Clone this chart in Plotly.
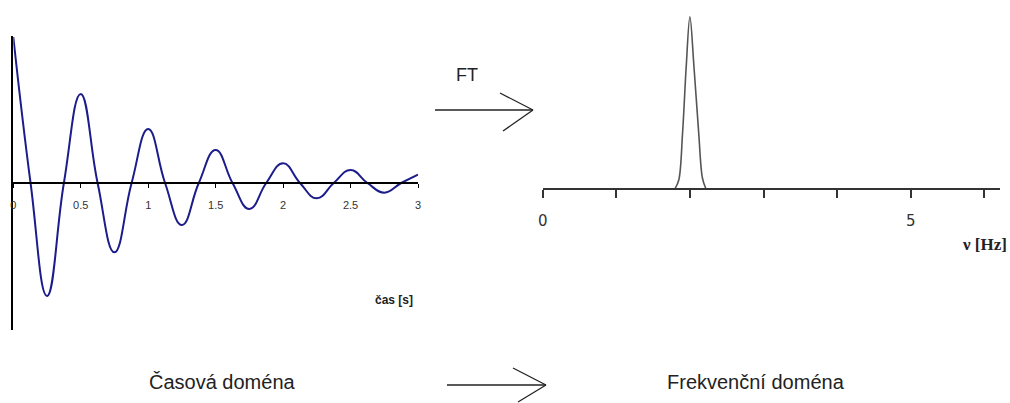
import plotly.graph_objects as go

W, H = 1010, 403

# ---- data: time domain (damped oscillation) ----
time_s = [0.0, 0.128, 0.25, 0.375, 0.5, 0.625, 0.75, 0.877, 1.0, 1.125, 1.25, 1.375,
          1.5, 1.625, 1.75, 1.875, 2.0, 2.125, 2.25, 2.375, 2.5, 2.625, 2.75, 2.875, 3.0]
signal = [1.0, 0.0, -0.774, 0.0, 0.61, 0.0, -0.475, 0.0, 0.37, 0.0, -0.288, 0.0,
          0.226, 0.0, -0.178, 0.0, 0.135, 0.0, -0.105, 0.0, 0.089, 0.0, -0.066, 0.0, 0.058]
time_ticks = [0, 0.5, 1, 1.5, 2, 2.5, 3]
time_tick_text = ["0", "0.5", "1", "1.5", "2", "2.5", "3"]

# ---- data: frequency domain (single peak at 2 Hz) ----
freq_hz = [1.80, 1.85, 1.90, 1.95, 2.00, 2.055, 2.12, 2.17, 2.215]
spectrum = [0.0, 0.05, 0.32, 0.71, 1.0, 0.71, 0.32, 0.06, 0.0]
freq_ticks = [0, 1, 2, 3, 4, 5, 6]
freq_tick_text = ["0", "", "", "", "", "5", ""]


def px(x):
    return x / W


def py(y):
    return 1 - y / H


fig = go.Figure()
fig.add_trace(go.Scatter(x=time_s, y=signal, mode="lines",
                         line=dict(color="#1c1c8a", width=2, shape="spline", smoothing=1.3),
                         xaxis="x", yaxis="y", hoverinfo="skip"))
fig.add_trace(go.Scatter(x=freq_hz, y=spectrum, mode="lines",
                         line=dict(color="#555555", width=1.6, shape="spline", smoothing=1.0),
                         xaxis="x2", yaxis="y2", hoverinfo="skip"))

ppu = 146.0  # pixels per unit on left y axis
fig.update_layout(
    width=W, height=H, margin=dict(l=0, r=0, t=0, b=0, autoexpand=False),
    paper_bgcolor="white", plot_bgcolor="rgba(0,0,0,0)", showlegend=False,
    xaxis=dict(domain=[px(13.3), px(418)], range=[0, 3], anchor="free", position=py(183),
               automargin=False,
               showline=True, linecolor="black", linewidth=1.5,
               ticks="outside", ticklen=4, tickcolor="black", tickwidth=1,
               ticklabelstandoff=8,
               tickvals=time_ticks, ticktext=time_tick_text,
               tickfont=dict(family="Liberation Sans, Arial", size=11, color="#333"),
               showgrid=False, zeroline=False, fixedrange=True),
    yaxis=dict(domain=[py(330), py(36)], range=[-(330 - 183) / ppu, (183 - 36) / ppu],
               automargin=False,
               showline=True, linecolor="black", linewidth=1.5,
               showticklabels=False, ticks="", showgrid=False, zeroline=False, fixedrange=True),
    xaxis2=dict(domain=[px(542.7), px(1000)], range=[0, (1000 - 542.7) / 73.6], anchor="y2",
                automargin=False,
                showline=True, linecolor="#333", linewidth=2,
                ticks="outside", ticklen=8, tickcolor="#333", tickwidth=2,
                ticklabelstandoff=10,
                tickvals=freq_ticks, ticktext=freq_tick_text,
                tickfont=dict(family="DejaVu Sans", size=15, color="#333"),
                showgrid=False, zeroline=False, fixedrange=True),
    yaxis2=dict(domain=[py(188.3), py(15)], range=[0, (188.3 - 15) / 171.6], visible=False,
                automargin=False, fixedrange=True),
)

# text labels
def note(x, y, text, size, family="Liberation Sans, Arial", color="#222"):
    fig.add_annotation(x=px(x), y=py(y), xref="paper", yref="paper", text=text,
                       showarrow=False, xanchor="center", yanchor="middle",
                       font=dict(family=family, size=size, color=color))

note(394, 300, "<b>čas [s]</b>", 12)
note(984, 245, "<b>ν [Hz]</b>", 17, family="Liberation Serif, Times New Roman")
note(467, 75, "FT", 18)
note(222, 382, "Časová doména", 20)
note(756, 382, "Frekvenční doména", 20)

# open arrows
def seg(x0, y0, x1, y1, w=1.3):
    fig.add_shape(type="line", xref="paper", yref="paper",
                  x0=px(x0), y0=py(y0), x1=px(x1), y1=py(y1),
                  line=dict(color="#222", width=w))

seg(435, 110, 533, 110)
seg(533, 110, 500, 93)
seg(533, 110, 503, 131)
seg(447, 385, 546, 385)
seg(546, 385, 513, 368)
seg(546, 385, 518, 402)

fig.write_html("out.html", config={"displayModeBar": False})
